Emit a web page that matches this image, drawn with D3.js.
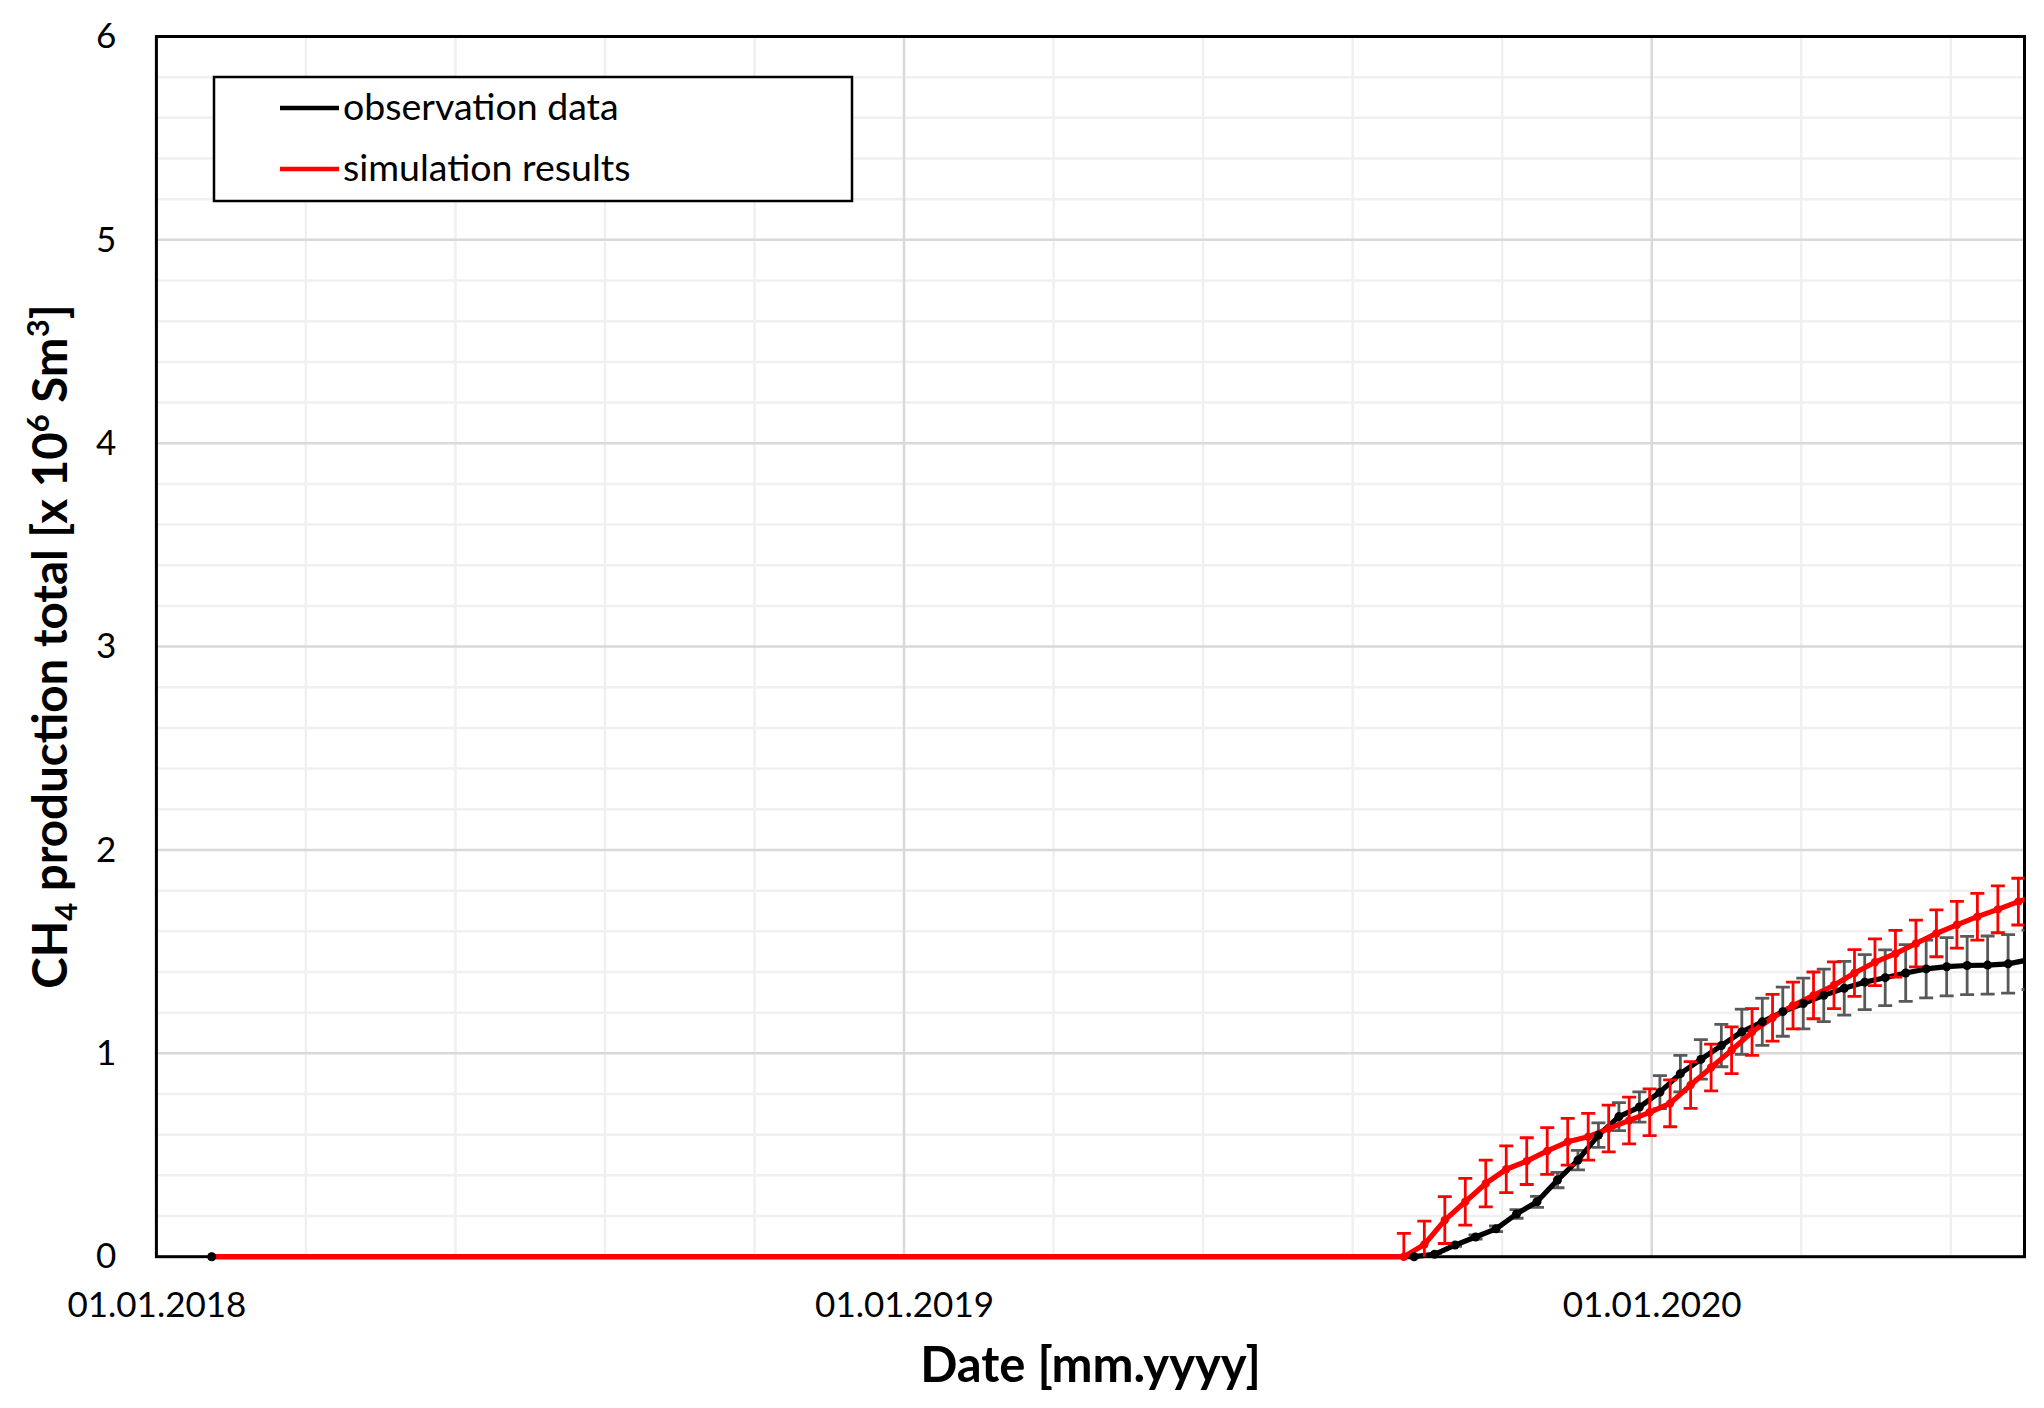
<!DOCTYPE html>
<html>
<head>
<meta charset="utf-8">
<script src="https://cdn.jsdelivr.net/npm/d3@7"></script>
<style>
  html, body { margin: 0; padding: 0; background: #ffffff; }
  svg { display: block; }
  text { font-family: Lato, "Open Sans", sans-serif; }
</style>
</head>
<body>
<div id="chart"></div>
<script>
// ---------- data ----------
const xTickLabels = ["2018-01-01", "2019-01-01", "2020-01-01"];
const yTicks = [0, 1, 2, 3, 4, 5, 6];

const obsDates = ["2018-01-28","2019-09-07","2019-09-17","2019-09-27","2019-10-07","2019-10-17","2019-10-27",
  "2019-11-06","2019-11-16","2019-11-26","2019-12-06","2019-12-16","2019-12-26","2020-01-05","2020-01-15",
  "2020-01-25","2020-02-04","2020-02-14","2020-02-24","2020-03-05","2020-03-15","2020-03-25","2020-04-04",
  "2020-04-14","2020-04-24","2020-05-04","2020-05-14","2020-05-24","2020-06-03","2020-06-13","2020-06-23","2020-07-03"];
const obsValues = [0, 0, 0.012, 0.057, 0.097, 0.137, 0.21, 0.27, 0.377, 0.475, 0.598, 0.689, 0.736, 0.809, 0.9,
  0.97, 1.038, 1.106, 1.155, 1.205, 1.245, 1.285, 1.32, 1.35, 1.372, 1.395, 1.415, 1.426, 1.432, 1.434, 1.44, 1.46];
const obsErr = [0, 0, 0.001, 0.006, 0.010, 0.014, 0.021, 0.027, 0.038, 0.048, 0.060, 0.069, 0.074, 0.081, 0.090,
  0.097, 0.104, 0.111, 0.116, 0.121, 0.125, 0.129, 0.132, 0.135, 0.137, 0.140, 0.142, 0.143, 0.143, 0.143, 0.144, 0.146];

const simDates = ["2018-01-28","2019-09-02","2019-09-12","2019-09-22","2019-10-02","2019-10-12","2019-10-22",
  "2019-11-01","2019-11-11","2019-11-21","2019-12-01","2019-12-11","2019-12-21","2019-12-31","2020-01-10",
  "2020-01-20","2020-01-30","2020-02-09","2020-02-19","2020-02-29","2020-03-10","2020-03-20","2020-03-30",
  "2020-04-09","2020-04-19","2020-04-29","2020-05-09","2020-05-19","2020-05-29","2020-06-08","2020-06-18",
  "2020-06-28","2020-07-08"];
const simValues = [0, 0, 0.06, 0.18, 0.27, 0.36, 0.43, 0.47, 0.52, 0.565, 0.59, 0.63, 0.67, 0.71, 0.754,
  0.844, 0.93, 1.015, 1.105, 1.175, 1.235, 1.285, 1.335, 1.395, 1.448, 1.49, 1.54, 1.59, 1.632, 1.672, 1.708,
  1.746, 1.78];
const simErr = [0, 0.115, 0.115, 0.115, 0.115, 0.115, 0.115, 0.115, 0.115, 0.115, 0.115, 0.115, 0.115, 0.115,
  0.115, 0.115, 0.115, 0.115, 0.115, 0.115, 0.115, 0.115, 0.115, 0.115, 0.115, 0.115, 0.115, 0.115, 0.115,
  0.115, 0.115, 0.115, 0.115];

const seriesNames = ["observation data", "simulation results"];

// ---------- layout ----------
const W = 2044, H = 1408;
const plot = { left: 156.4, top: 36.5, right: 2024.5, bottom: 1256.7 };
const parse = d3.utcParse("%Y-%m-%d");

const x = d3.scaleUtc()
  .domain([parse("2018-01-01"), parse("2020-07-01")])
  .range([plot.left, plot.right]);
const y = d3.scaleLinear().domain([0, 6]).range([plot.bottom, plot.top]);

const svg = d3.select("#chart").append("svg").attr("width", W).attr("height", H);

const defs = svg.append("defs");
defs.append("clipPath").attr("id", "clipExact").append("rect")
  .attr("x", plot.left).attr("y", plot.top)
  .attr("width", plot.right - plot.left).attr("height", plot.bottom - plot.top);
defs.append("clipPath").attr("id", "clipLine").append("rect")
  .attr("x", plot.left).attr("y", plot.top - 10)
  .attr("width", plot.right - plot.left).attr("height", plot.bottom - plot.top + 20);

// ---------- gridlines ----------
const grid = svg.append("g");
const dayMs = 86400000;
const start = parse("2018-01-01").getTime();
const minorX = d3.range(73, 912, 73).filter(d => d !== 365 && d !== 730).map(d => new Date(start + d * dayMs));
const majorX = ["2019-01-01", "2020-01-01"].map(parse);
const minorY = d3.range(0.2, 6, 0.2).filter(v => Math.abs(v - Math.round(v)) > 1e-6);
const majorY = [1, 2, 3, 4, 5];

grid.selectAll(".mnx").data(minorX).join("line")
  .attr("x1", d => x(d)).attr("x2", d => x(d)).attr("y1", plot.top).attr("y2", plot.bottom)
  .attr("stroke", "#f0f0f0").attr("stroke-width", 2.5);
grid.selectAll(".mny").data(minorY).join("line")
  .attr("x1", plot.left).attr("x2", plot.right).attr("y1", d => y(d)).attr("y2", d => y(d))
  .attr("stroke", "#f0f0f0").attr("stroke-width", 2.5);
grid.selectAll(".mjx").data(majorX).join("line")
  .attr("x1", d => x(d)).attr("x2", d => x(d)).attr("y1", plot.top).attr("y2", plot.bottom)
  .attr("stroke", "#d9d9d9").attr("stroke-width", 2.5);
grid.selectAll(".mjy").data(majorY).join("line")
  .attr("x1", plot.left).attr("x2", plot.right).attr("y1", d => y(d)).attr("y2", d => y(d))
  .attr("stroke", "#d9d9d9").attr("stroke-width", 2.5);

// ---------- plot border ----------
svg.append("rect")
  .attr("x", plot.left).attr("y", plot.top)
  .attr("width", plot.right - plot.left).attr("height", plot.bottom - plot.top)
  .attr("fill", "none").attr("stroke", "#000").attr("stroke-width", 3);

// ---------- axes ----------
const xAxis = d3.axisBottom(x)
  .tickValues(xTickLabels.map(parse))
  .tickFormat(d3.utcFormat("%d.%m.%Y"))
  .tickSize(0).tickPadding(35);
const gx = svg.append("g").attr("transform", `translate(0,${plot.bottom})`).call(xAxis);
gx.select(".domain").remove();
gx.selectAll("text").attr("font-size", 35).attr("fill", "#000")
  .attr("font-family", "Lato, 'Open Sans', sans-serif");

const yAxis = d3.axisLeft(y).tickValues(yTicks).tickFormat(d3.format("d")).tickSize(0).tickPadding(40);
const gy = svg.append("g").attr("transform", `translate(${plot.left},0)`).call(yAxis);
gy.select(".domain").remove();
gy.selectAll("text").attr("font-size", 35).attr("fill", "#000")
  .attr("font-family", "Lato, 'Open Sans', sans-serif");

// ---------- axis titles ----------
svg.append("text")
  .attr("x", (plot.left + plot.right) / 2).attr("y", 1382)
  .attr("text-anchor", "middle").attr("font-size", 49).attr("font-weight", "bold")
  .text("Date [mm.yyyy]");

const yt = svg.append("text")
  .attr("transform", `translate(67,${(plot.top + plot.bottom) / 2}) rotate(-90)`)
  .attr("text-anchor", "middle").attr("font-size", 47.5).attr("font-weight", "bold");
yt.append("tspan").text("CH");
yt.append("tspan").attr("font-size", 31).attr("dy", 10).text("4");
yt.append("tspan").attr("dy", -10).text(" production total [x 10");
yt.append("tspan").attr("font-size", 31).attr("dy", -18).text("6");
yt.append("tspan").attr("dy", 18).text(" Sm");
yt.append("tspan").attr("font-size", 31).attr("dy", -18).text("3");
yt.append("tspan").attr("dy", 18).text("]");

// ---------- series ----------
const obs = obsDates.map((d, i) => ({ date: parse(d), v: obsValues[i], e: obsErr[i] }));
const sim = simDates.map((d, i) => ({ date: parse(d), v: simValues[i], e: simErr[i] }));

function drawErr(data, color) {
  const cap = 7;
  const eb = svg.append("g").attr("clip-path", "url(#clipExact)")
    .attr("stroke", color).attr("stroke-width", 2.8).attr("fill", "none");
  const withErr = data.filter(d => d.e > 0);
  eb.selectAll(".stem").data(withErr).join("line")
    .attr("x1", d => x(d.date)).attr("x2", d => x(d.date))
    .attr("y1", d => y(d.v - d.e)).attr("y2", d => y(d.v + d.e));
  eb.selectAll(".capT").data(withErr).join("line")
    .attr("x1", d => x(d.date) - cap).attr("x2", d => x(d.date) + cap)
    .attr("y1", d => y(d.v + d.e)).attr("y2", d => y(d.v + d.e));
  eb.selectAll(".capB").data(withErr).join("line")
    .attr("x1", d => x(d.date) - cap).attr("x2", d => x(d.date) + cap)
    .attr("y1", d => y(d.v - d.e)).attr("y2", d => y(d.v - d.e));
}

function drawLine(data, color) {
  svg.append("g").attr("clip-path", "url(#clipLine)")
    .append("path").datum(data)
    .attr("d", d3.line().x(d => x(d.date)).y(d => y(d.v)))
    .attr("fill", "none").attr("stroke", color).attr("stroke-width", 5.2)
    .attr("stroke-linejoin", "round");
}

function drawMarkers(data, color, r) {
  svg.append("g").attr("clip-path", "url(#clipLine)")
    .selectAll("circle").data(data.filter(d => x(d.date) <= plot.right)).join("circle")
    .attr("cx", d => x(d.date)).attr("cy", d => y(d.v)).attr("r", r)
    .attr("fill", color);
}

drawErr(obs, "#595959");
drawLine(obs, "#000000");
drawErr(sim, "#ff0000");
drawLine(sim, "#ff0000");
drawMarkers(sim, "#ff0000", 4.2);
drawMarkers(obs, "#000000", 4.5);

// ---------- legend ----------
const lg = svg.append("g");
lg.append("rect").attr("x", 214).attr("y", 77).attr("width", 638).attr("height", 124)
  .attr("fill", "#fff").attr("stroke", "#000").attr("stroke-width", 2.5);
const legendColors = ["#000000", "#ff0000"];
const legendY = [108, 169];
seriesNames.forEach((name, i) => {
  lg.append("line").attr("x1", 280).attr("x2", 339).attr("y1", legendY[i]).attr("y2", legendY[i])
    .attr("stroke", legendColors[i]).attr("stroke-width", 4.5);
  lg.append("text").attr("x", 343).attr("y", legendY[i] + 12)
    .attr("font-size", 37.5).attr("fill", "#000").text(name);
});
</script>
</body>
</html>
